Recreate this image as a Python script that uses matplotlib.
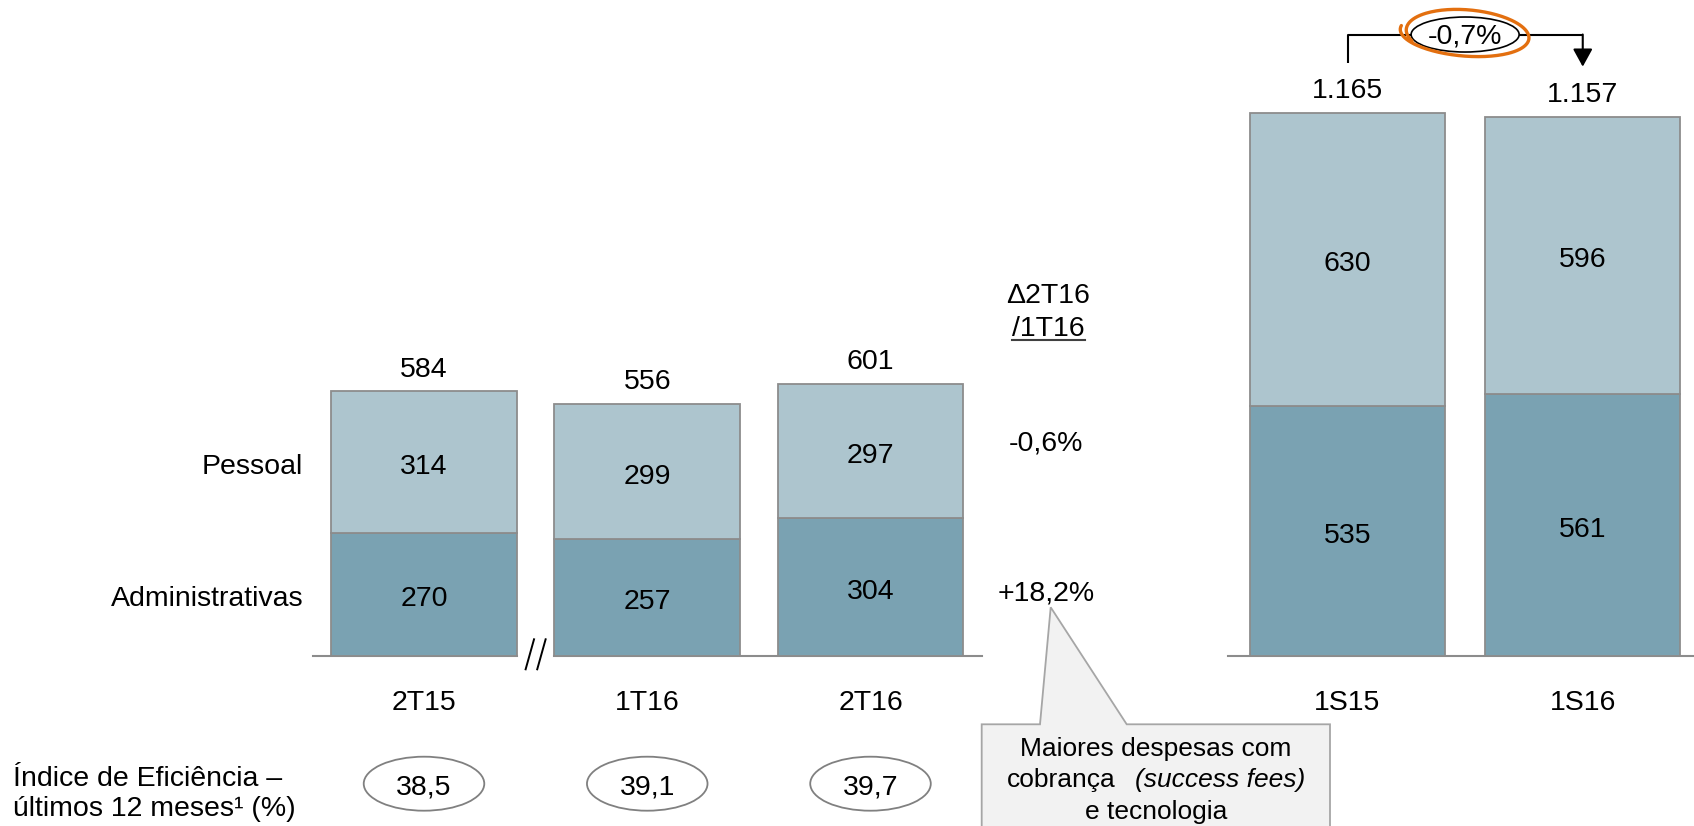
import numpy as np
import matplotlib.pyplot as plt
from matplotlib.patches import Ellipse, Polygon
from matplotlib.lines import Line2D
from matplotlib.transforms import Affine2D

plt.rcParams['font.family'] = 'Liberation Sans'

# Despesas por trimestre e por semestre (R$ milhões)
trimestres = ['2T15', '1T16', '2T16']
administrativas_tri = [270, 257, 304]
pessoal_tri = [314, 299, 297]

semestres = ['1S15', '1S16']
administrativas_sem = [535, 561]
pessoal_sem = [630, 596]

indice_eficiencia = [38.5, 39.1, 39.7]
variacao_tri = ['-0,6%', '+18,2%']
variacao_sem = '-0,7%'

# Cores e tamanhos
ESCURO = '#7AA2B2'
CLARO = '#ADC5CE'
BORDA = '#8C8C8C'
LARANJA = '#E36F0F'
FS = 20.5
DESCE = -3.5          # ajuste vertical (pt) para centrar os algarismos

W, H = 1694, 826
BASE = 655.7          # linha de base (pixels a partir do topo)
fig = plt.figure(figsize=(W / 100, H / 100), dpi=100)
px = Affine2D().scale(1 / W, -1 / H).translate(0, 1) + fig.transFigure


def fmt_milhar(v):
    return f'{v:,}'.replace(',', '.')


def fmt_dec(v):
    return f'{v:.1f}'.replace('.', ',')


def eixo(x0, x1, centro, passo, escala):
    ax = fig.add_axes([x0 / W, 1 - BASE / H, (x1 - x0) / W, BASE / H])
    ax.set_xlim((x0 - centro) / passo, (x1 - centro) / passo)
    ax.set_ylim(0, BASE / escala)
    for s in ax.spines.values():
        s.set_visible(False)
    ax.set_yticks([])
    ax.tick_params(axis='x', length=0, pad=24.5, labelsize=FS)
    return ax


def barras(ax, cats, adm, pes, largura):
    x = np.arange(len(cats))
    total = np.add(adm, pes)
    ax.bar(x, adm, width=largura, color=ESCURO, edgecolor=BORDA, lw=1.3, zorder=2)
    ax.bar(x, pes, bottom=adm, width=largura, color=CLARO, edgecolor=BORDA, lw=1.3, zorder=2)
    for xi, a, p, t in zip(x, adm, pes, total):
        ax.annotate(str(a), (xi, a / 2), xytext=(0, DESCE), textcoords='offset points',
                    ha='center', va='center', fontsize=FS)
        ax.annotate(str(p), (xi, a + p / 2), xytext=(0, DESCE), textcoords='offset points',
                    ha='center', va='center', fontsize=FS)
        ax.annotate(fmt_milhar(int(t)), (xi, t), xytext=(0, 15.5), textcoords='offset points',
                    ha='center', va='center', fontsize=FS)
    ax.set_xticks(x, cats)
    return x, total


# --- Trimestres ---
ax1 = eixo(313, 982, 424, 223.25, 0.4527)
larg1 = 0.833
x1, tot1 = barras(ax1, trimestres, administrativas_tri, pessoal_tri, larg1)
xl = ax1.get_xlim()
ax1.plot([xl[0], x1[0] + larg1 / 2], [0, 0], color=BORDA, lw=1.5, clip_on=False, zorder=1)
ax1.plot([x1[1] - larg1 / 2, xl[1]], [0, 0], color=BORDA, lw=1.5, clip_on=False, zorder=1)

# quebra de escala "//"
meio = (x1[0] + x1[1]) / 2
for dx in (-5.8, 5.8):
    xs = meio + (np.array([-4.2, 4.2]) + dx) / 223.25
    ys = np.array([-13.6, 16.4]) / 0.4527
    ax1.plot(xs, ys, color='black', lw=1.4, clip_on=False, zorder=3)

# rótulos das linhas
for texto, yv in (('Pessoal', administrativas_tri[0] + pessoal_tri[0] / 2),
                  ('Administrativas', administrativas_tri[0] / 2)):
    ax1.annotate(texto, (ax1.get_xlim()[0], yv), xytext=(-7, DESCE),
                 textcoords='offset points', ha='right', va='center', fontsize=FS,
                 annotation_clip=False)

# índice de eficiência
tx = ax1.get_xaxis_transform()
y_ind = (BASE - 783.7) / BASE
for xi, v in zip(x1, indice_eficiencia):
    ax1.add_patch(Ellipse((xi, y_ind), 0.54, 54 / BASE, transform=tx, facecolor='white',
                          edgecolor='#808080', lw=1.3, clip_on=False))
    ax1.annotate(fmt_dec(v), (xi, y_ind), xycoords=tx, xytext=(0, DESCE + 1),
                 textcoords='offset points', ha='center', va='center', fontsize=FS,
                 annotation_clip=False)

fig.text(13, 786, 'Índice de Eficiência –', transform=px, ha='left', va='baseline', fontsize=FS)
fig.text(13, 816, 'últimos 12 meses¹ (%)', transform=px, ha='left', va='baseline', fontsize=FS)

# variação 2T16/1T16
fig.text(1048, 303, 'Δ2T16', transform=px, ha='center', va='baseline', fontsize=FS)
fig.text(1048, 336, '/1T16', transform=px, ha='center', va='baseline', fontsize=FS)
fig.add_artist(Line2D([1012, 1085], [339.5, 339.5], transform=px, color='#404040', lw=1.5))
fig.text(1046, 443, variacao_tri[0], transform=px, ha='center', va='center', fontsize=FS)
fig.text(1046, 594, variacao_tri[1], transform=px, ha='center', va='center', fontsize=FS)

# balão explicativo
balao = [(981.7, 840), (981.7, 724.3), (1040, 724.3), (1050.7, 607.3),
         (1126.7, 724.3), (1330, 724.3), (1330, 840)]
fig.add_artist(Polygon(balao, closed=True, transform=px, facecolor='#F2F2F2',
                       edgecolor='#A6A6A6', lw=1.3))
fig.text(1156, 756, 'Maiores despesas com', transform=px, ha='center', va='baseline', fontsize=19)
fig.text(1116, 787, 'cobrança', transform=px, ha='right', va='baseline', fontsize=19)
fig.text(1135, 787, '(success fees)', transform=px, ha='left', va='baseline',
         fontsize=19, style='italic')
fig.text(1156, 819, 'e tecnologia', transform=px, ha='center', va='baseline', fontsize=19)

# --- Semestres ---
ax2 = eixo(1228, 1694, 1347.5, 235.25, 0.466)
x2, tot2 = barras(ax2, semestres, administrativas_sem, pessoal_sem, 0.829)
ax2.plot(ax2.get_xlim(), [0, 0], color=BORDA, lw=1.5, clip_on=False, zorder=1)

# seta de variação entre semestres
folga = 107
nivel = max(tot2) + 168
ax2.plot([x2[0], x2[0], x2[1]], [tot2[0] + folga, nivel, nivel], color='black', lw=1.5,
         clip_on=False, zorder=3, solid_capstyle='butt')
ax2.annotate('', xy=(x2[1], tot2[1] + folga), xytext=(x2[1], nivel),
             arrowprops=dict(arrowstyle='-|>,head_length=0.4,head_width=0.22', color='black',
                             lw=1.5, mutation_scale=27, shrinkA=0, shrinkB=0),
             annotation_clip=False, zorder=3)
xm = (x2[0] + x2[1]) / 2
ax2.add_patch(Ellipse((xm, nivel), 108 / 235.25, 35 / 0.466, facecolor='white',
                      edgecolor='black', lw=1.2, clip_on=False, zorder=4))
ax2.annotate(variacao_sem, (xm, nivel), xytext=(0, -1.5), textcoords='offset points',
             ha='center', va='center', fontsize=FS, zorder=6, annotation_clip=False)

# destaque laranja feito à mão
t = np.linspace(0, 2 * np.pi * 1.1, 200) + np.pi * 0.95
rx = 63 + 3 * np.sin(t * 0.5)
ry = 22 + 2.5 * (t - t[0]) / (t[-1] - t[0])
ang = np.deg2rad(-4)
ox = rx * np.cos(t)
oy = ry * np.sin(t)
ex = ox * np.cos(ang) - oy * np.sin(ang) + 1
ey = ox * np.sin(ang) + oy * np.cos(ang) + 1
ax2.plot(xm + ex / 235.25, nivel + ey / 0.466, color=LARANJA, lw=2.4, clip_on=False,
         zorder=5, solid_capstyle='round')

fig.savefig('out.png', dpi=100)
